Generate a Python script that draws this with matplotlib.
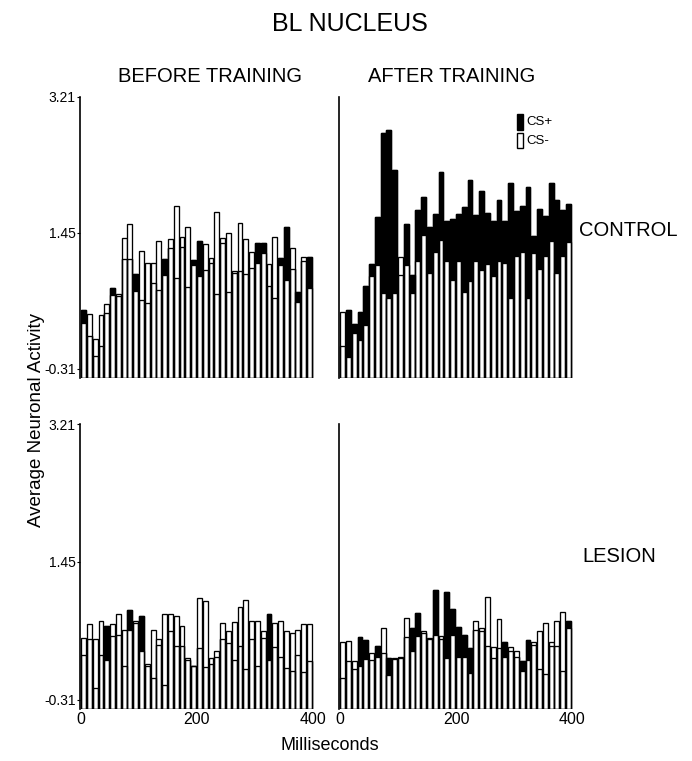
import numpy as np
import matplotlib
matplotlib.use("Agg")
import matplotlib.pyplot as plt
from matplotlib.patches import Rectangle

plt.rcParams['font.family'] = ['Liberation Sans', 'DejaVu Sans']

# ---- data (10 ms bins, 0-400 ms) ----
bins = np.arange(0, 400, 10)

before_control_csplus = [0.45, 0.11, -0.15, -0.01, 0.41, 0.73, 0.63, 1.11, 1.11, 0.92,
                         0.58, 0.54, 0.80, 0.71, 1.11, 1.25, 0.86, 1.27, 0.75, 1.10,
                         1.35, 0.97, 1.06, 0.66, 1.32, 0.69, 0.93, 0.95, 0.92, 0.99,
                         1.32, 1.32, 0.76, 0.61, 1.12, 1.52, 0.98, 0.69, 1.09, 1.14]
before_control_csminus = [0.28, 0.40, 0.07, 0.39, 0.53, 0.65, 0.66, 1.38, 1.57, 0.70,
                          1.22, 1.06, 1.06, 1.35, 0.91, 1.37, 1.80, 1.40, 1.52, 1.04,
                          0.89, 1.30, 1.12, 1.72, 1.38, 1.45, 0.95, 1.58, 1.37, 1.20,
                          1.06, 1.19, 1.05, 1.40, 1.03, 0.84, 1.25, 0.55, 1.14, 0.73]

after_control_csplus = [-0.02, 0.45, 0.27, 0.42, 0.76, 1.05, 1.66, 2.75, 2.78, 2.27,
                        0.91, 1.56, 0.91, 1.75, 1.92, 1.52, 1.70, 2.24, 1.60, 1.63,
                        1.70, 1.78, 2.14, 1.68, 1.99, 1.71, 1.60, 1.88, 1.60, 2.10,
                        1.73, 1.80, 2.04, 1.41, 1.76, 1.67, 2.10, 1.88, 1.75, 1.83]
after_control_csminus = [0.42, -0.16, 0.15, 0.06, 0.26, 0.89, 1.04, 0.67, 0.61, 0.67,
                         1.14, 1.03, 0.67, 1.08, 1.42, 0.93, 1.20, 1.36, 1.08, 0.84,
                         1.08, 0.69, 0.83, 1.08, 0.97, 1.05, 0.89, 1.09, 1.06, 0.61,
                         1.15, 1.20, 0.61, 1.19, 0.98, 1.15, 1.34, 0.93, 1.15, 1.33]

before_lesion_csplus = [0.26, 0.47, -0.16, 0.26, 0.63, 0.50, 0.52, 0.12, 0.83, 0.67,
                        0.76, 0.12, -0.03, 0.39, -0.12, 0.56, 0.37, 0.37, 0.20, 0.12,
                        0.35, 0.11, 0.14, 0.24, 0.46, 0.41, 0.20, 0.38, 0.08, 0.46,
                        0.12, 0.48, 0.78, 0.36, 0.24, 0.09, 0.05, 0.26, 0.04, 0.18]
before_lesion_csminus = [0.48, 0.66, 0.47, 0.69, 0.20, 0.65, 0.78, 0.58, 0.58, 0.69,
                         0.31, 0.14, 0.58, 0.46, 0.78, 0.78, 0.76, 0.63, 0.22, 0.12,
                         0.99, 0.95, 0.22, 0.31, 0.67, 0.57, 0.68, 0.87, 0.96, 0.69,
                         0.69, 0.56, 0.20, 0.67, 0.69, 0.56, 0.54, 0.58, 0.65, 0.66]

after_lesion_csplus = [-0.03, 0.18, 0.08, 0.49, 0.45, 0.19, 0.38, 0.29, 0.22, 0.21,
                       0.22, 0.49, 0.61, 0.80, 0.54, 0.46, 1.09, 0.46, 1.07, 0.85,
                       0.62, 0.52, 0.35, 0.58, 0.57, 0.37, 0.22, 0.35, 0.42, 0.31,
                       0.24, 0.18, 0.45, 0.39, 0.08, 0.02, 0.38, 0.37, 0.06, 0.69]
after_lesion_csminus = [0.43, 0.44, 0.18, 0.12, 0.21, 0.28, 0.23, 0.61, 0.01, 0.22,
                        0.23, 0.73, 0.31, 0.50, 0.57, 0.48, 0.52, 0.50, 0.22, 0.52,
                        0.23, 0.23, 0.03, 0.69, 0.61, 1.00, 0.36, 0.72, 0.23, 0.36,
                        0.31, 0.06, 0.20, 0.42, 0.57, 0.67, 0.43, 0.69, 0.81, 0.60]

y_ticks = [-0.31, 1.45, 3.21]
y_ticklabels = ['-0.31', '1.45', '3.21']
x_ticks = [0, 200, 400]
x_ticklabels = ['0', '200', '400']

YMIN, YMAX = -0.43, 3.21
BAR_W = 8.4
LW = 0.95

W, H = 692, 761
fig = plt.figure(figsize=(W / 100, H / 100), dpi=100)


def add_axes(x0, x1, ytop, ybot):
    return fig.add_axes([x0 / W, 1 - ybot / H, (x1 - x0) / W, (ybot - ytop) / H])


def draw(ax, csp, csm, show_y, show_x):
    csp = np.asarray(csp)
    csm = np.asarray(csm)
    ax.bar(bins, csp - YMIN, bottom=YMIN, width=BAR_W, align='edge',
           color='black', edgecolor='black', linewidth=LW)
    ax.bar(bins, csm - YMIN, bottom=YMIN, width=BAR_W, align='edge',
           color='white', edgecolor='black', linewidth=LW)
    ax.bar(bins, csp - YMIN, bottom=YMIN, width=BAR_W, align='edge',
           fill=False, edgecolor='black', linewidth=LW)
    ax.set_ylim(YMIN, YMAX)
    ax.set_xlim(-2, 402)
    for s in ['top', 'right', 'bottom']:
        ax.spines[s].set_visible(False)
    ax.spines['left'].set_linewidth(1.2)
    if show_y:
        ax.set_yticks(y_ticks)
        ax.set_yticklabels(y_ticklabels, fontsize=10)
        ax.tick_params(axis='y', length=2, width=0.8, pad=1)
    else:
        ax.set_yticks([])
    if show_x:
        ax.set_xticks(x_ticks)
        ax.set_xticklabels(x_ticklabels, fontsize=11.5)
        ax.tick_params(axis='x', length=0, pad=2)
    else:
        ax.set_xticks([])


ax_tl = add_axes(80, 314, 97, 378)
ax_tr = add_axes(339, 573, 97, 378)
ax_bl = add_axes(80, 314, 424, 709)
ax_br = add_axes(339, 573, 424, 709)

draw(ax_tl, before_control_csplus, before_control_csminus, True, False)
draw(ax_tr, after_control_csplus, after_control_csminus, False, False)
draw(ax_bl, before_lesion_csplus, before_lesion_csminus, True, True)
draw(ax_br, after_lesion_csplus, after_lesion_csminus, False, True)

# legend
lx = 0.762
for yc, fill, lab in [(0.912, 'black', 'CS+'), (0.845, 'white', 'CS-')]:
    ax_tr.add_patch(Rectangle((lx, yc - 0.028), 0.024, 0.056, transform=ax_tr.transAxes,
                              facecolor=fill, edgecolor='black', linewidth=1.0, clip_on=False))
    ax_tr.text(lx + 0.04, yc, lab, transform=ax_tr.transAxes, fontsize=9.5,
               va='center', ha='left')

# texts
fig.text(350 / W, 1 - 24 / H, 'BL NUCLEUS', fontsize=18, ha='center', va='center')
fig.text(210 / W, 1 - 77 / H, 'BEFORE TRAINING', fontsize=14.5, ha='center', va='center')
fig.text(452 / W, 1 - 77 / H, 'AFTER TRAINING', fontsize=14.5, ha='center', va='center')
fig.text(579 / W, 1 - 230 / H, 'CONTROL', fontsize=14.5, ha='left', va='center')
fig.text(582 / W, 1 - 556 / H, 'LESION', fontsize=14.5, ha='left', va='center')
fig.text(37 / W, 1 - 420 / H, 'Average Neuronal Activity', fontsize=13.5,
         rotation=90, ha='center', va='center')
fig.text(330 / W, 1 - 745 / H, 'Milliseconds', fontsize=13, ha='center', va='center')

fig.savefig('out.png', dpi=100)
